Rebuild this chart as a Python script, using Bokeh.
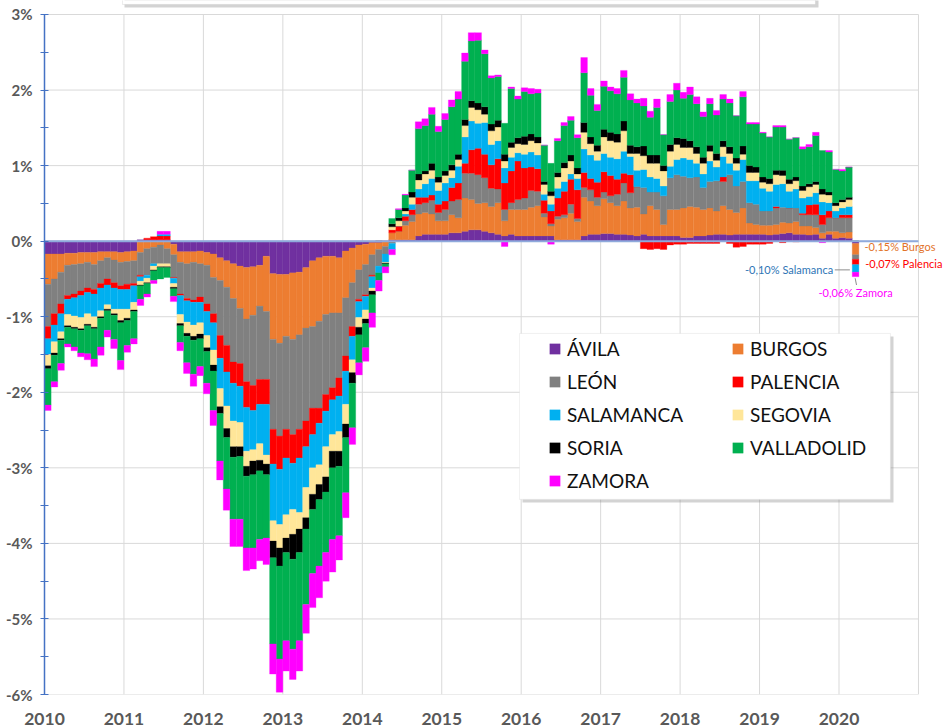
import numpy as np
import pandas as pd
from bokeh.plotting import figure
from bokeh.models import (ColumnDataSource, Range1d, FixedTicker, Legend, LegendItem,
                          BoxAnnotation, Label)
from bokeh.embed import file_html
from bokeh.resources import INLINE

# ---------------- data (monthly contribution, percentage points) ----------------
months = pd.date_range("2010-01-01", periods=123, freq="MS")

avila = [-.17,-.17,-.17,-.16,-.16,-.15,-.15,-.15,-.14,-.14,-.14,-.15,-.14,-.13,
         .02,.02,.02,.02,.02,-.04,
         -.14,-.14,-.14,-.13,-.15,-.17,-.22,-.26,-.30,-.33,
         -.35,-.34,-.32,-.20,-.43,-.44,-.44,-.42,-.41,-.35,
         -.26,-.22,-.20,-.20,-.22,-.13,-.09,-.05,-.04,-.02,-.02,-.01,
         .02,.02,.02,.02,.07,.09,.09,.09,.09,.11,
         .11,.13,.15,.15,.13,.11,.09,.07,.09,.07,
         .07,.07,.07,.07,.07,.02,.02,.02,.02,.07,
         .09,.09,.10,.10,.09,.09,.08,.07,.09,.07,
         .07,.07,.07,.07,.05,.05,.07,.07,.08,.09,
         .09,.08,.09,.09,.09,.09,.09,.08,.09,.10,
         .11,.09,.09,.08,.09,.04,.09,.04,.05,.04,-.03]

burgos = [-.40,-.33,-.24,-.16,-.15,-.15,-.13,-.16,-.12,-.08,
          -.11,-.13,-.13,-.13,-.15,-.10,-.08,-.05,-.10,-.14,
          -.14,-.16,-.14,-.17,-.17,-.31,-.30,-.35,-.46,-.56,
          -.68,-.64,-.54,-.73,-.87,-.91,-.82,-.88,-.83,-.80,
          -.87,-.84,-.77,-.75,-.73,-.62,-.46,-.33,-.27,-.16,
          -.09,-.06,.09,.11,.19,.24,.29,.29,.27,.18,
          .18,.24,.20,.44,.40,.35,.38,.35,.42,.20,
          .33,.35,.35,.38,.40,.25,.13,.27,.29,.35,
          .24,.51,.44,.38,.46,.41,.38,.44,.36,.38,
          .27,.40,.35,.15,.35,.35,.39,.41,.38,.35,
          .36,.31,.38,.34,.29,.35,.15,.13,.12,.13,
          .13,.15,.13,.17,.11,.12,.09,.07,.04,.09,
          .06,.08,-.15]

leon = [-.56,-.46,-.42,-.40,-.39,-.36,-.34,-.33,-.30,-.28,
        -.30,-.31,-.30,-.30,-.30,-.35,-.22,-.25,-.20,-.30,
        -.42,-.46,-.50,-.44,-.51,-.48,-.73,-.77,-.84,-.73,
        -.83,-.93,-.97,-.90,-1.19,-1.23,-1.23,-1.26,-1.25,-1.23,
        -1.08,-1.15,-1.06,-.99,-.86,-.77,-.58,-.39,-.40,-.27,
        -.22,-.10,-.03,.00,.06,.09,.13,.13,.18,.11,
        .15,.18,.24,.33,.35,.38,.33,.24,.18,.15,
        .09,.13,.15,.22,.19,.05,.03,.04,.04,.12,
        .04,.13,.15,.11,.09,.09,.15,.24,.20,.27,
        .35,.18,.23,.38,.42,.46,.42,.38,.40,.29,
        .35,.40,.32,.46,.35,.35,.27,.27,.19,.19,
        .22,.20,.20,.18,.15,.15,.17,.11,.18,.18,
        .20,.19,-.06]

palencia = [-.16,-.15,-.13,-.05,-.05,-.06,-.06,-.06,-.06,-.08,
            -.07,-.05,-.07,-.03,-.02,.02,.04,.05,.05,-.01,
            -.02,-.03,-.03,-.07,-.10,-.12,-.30,-.35,-.28,-.30,
            -.34,-.33,-.33,-.33,-.46,-.44,-.38,-.38,-.38,-.34,
            -.35,-.20,-.22,-.16,-.24,-.20,-.13,-.03,-.02,-.02,
            .00,.00,.04,.07,.06,.07,.09,.07,.07,.11,
            .11,.18,.22,.13,.31,.35,.31,.31,.40,.35,
            .42,.51,.40,.31,.30,.17,.17,.24,.31,.33,
            .38,.20,.15,.20,.27,.27,.20,.13,.24,.00,
            -.10,-.11,-.10,-.11,-.05,-.04,-.04,-.03,-.03,-.03,
            -.03,-.03,.06,-.03,-.08,-.07,-.04,-.04,-.04,-.03,
            .02,-.02,.00,-.01,.02,.13,.14,.13,.09,.00,
            .04,.04,-.07]

salamanca = [-.21,-.22,-.24,-.20,-.24,-.29,-.28,-.30,-.30,-.26,
             -.28,-.26,-.26,-.22,-.06,-.04,-.03,.02,.02,-.07,
             -.25,-.28,-.30,-.27,-.32,-.36,-.40,-.45,-.50,-.48,
             -.58,-.52,-.52,-.67,-.75,-.73,-.75,-.61,-.72,-.54,
             -.44,-.55,-.47,-.46,-.47,-.44,-.31,-.21,-.18,-.15,
             -.09,-.11,-.08,.00,.03,.07,.11,.18,.22,.18,
             .24,.13,.22,.35,.38,.33,.42,.27,.24,.20,
             .18,.11,.18,.20,.18,.08,.09,.13,.13,.07,
             .15,.31,.31,.29,.24,.24,.27,.29,.24,.22,
             .24,.20,.18,.13,.15,.20,.24,.24,.18,.18,
             .27,.18,.27,.15,.21,.29,.29,.31,.30,.26,
             .29,.31,.22,.25,.20,.11,.15,.17,.11,.09,
             .09,.11,-.10]

segovia = [-.15,-.15,-.09,-.15,-.15,-.15,-.14,-.14,-.08,-.06,
           -.06,-.15,-.12,-.10,-.05,-.06,-.05,-.04,-.04,-.05,
           -.12,-.15,-.15,-.15,-.16,-.20,-.24,-.30,-.34,-.32,
           -.20,-.15,-.22,-.12,-.27,-.31,-.31,-.33,-.22,-.40,
           -.35,-.26,-.40,-.22,-.26,-.26,-.17,-.13,-.12,-.04,
           .00,-.01,.04,.07,.04,.09,.12,.13,.11,.11,
           .10,.10,.09,.15,.18,.18,.11,.18,.18,.09,
           .13,.12,.13,.15,.16,.13,.11,.15,.18,.17,
           .06,.22,.15,.12,.22,.22,.22,.27,.04,.22,
           .18,.18,.20,.20,.20,.20,.14,.16,.13,.14,
           .13,.09,.13,.13,.09,.07,.11,.11,.08,.10,
           .13,.11,.10,.11,.10,.13,.11,.10,.10,.07,
           .08,.09,.00]

soria = [-.04,-.03,-.02,-.02,-.02,-.02,-.02,-.02,-.02,-.02,
         -.02,-.03,-.03,-.02,-.01,-.01,-.01,-.01,-.01,-.02,
         -.03,-.04,-.05,-.06,-.05,-.08,-.09,-.12,-.14,-.13,
         -.13,-.18,-.14,-.14,-.22,-.24,-.19,-.33,-.31,-.15,
         -.20,-.20,-.20,-.22,-.20,-.18,-.14,-.10,-.06,-.05,
         .00,-.01,.04,.04,.04,.07,.08,.04,.09,.07,
         .06,.07,.07,.08,.09,.09,.10,.09,.09,.09,
         .07,.08,.11,.09,.08,.04,.06,.06,.07,.08,
         .08,.13,.09,.08,.10,.11,.11,.13,.11,.09,
         .13,.11,.11,.07,.09,.09,.12,.09,.09,.08,
         .08,.09,.08,.09,.07,.11,.09,.07,.07,.07,
         .06,.07,.06,.05,.06,.04,.04,.07,.04,.04,
         .03,.03,.00]

valladolid = [-.48,-.35,-.31,-.22,-.24,-.30,-.37,-.40,-.38,-.26,
              -.32,-.50,-.33,-.36,-.18,-.14,-.13,-.15,-.13,-.10,
              -.22,-.35,-.45,-.37,-.42,-.52,-.63,-.68,-.82,-.83,
              -.95,-.97,-.91,-.84,-1.14,-1.23,-1.17,-1.19,-1.17,-1.00,
              -.85,-.88,-.80,-.95,-.92,-.73,-.59,-.37,-.32,-.24,
              -.10,-.04,.07,.11,.17,.29,.60,.60,.65,.60,
              .68,.77,.73,.77,.79,.83,.70,.61,.58,.41,
              .71,.51,.59,.53,.58,.48,.37,.42,.49,.46,
              .40,.66,.55,.46,.57,.55,.53,.58,.60,.58,
              .53,.50,.63,.41,.57,.63,.53,.61,.57,.54,
              .55,.51,.55,.58,.56,.65,.55,.57,.58,.55,
              .57,.57,.53,.52,.49,.49,.61,.51,.53,.44,
              .38,.40,.00]

zamora = [-.07,-.07,-.09,-.04,-.05,-.05,-.08,-.10,-.11,-.09,
          -.12,-.12,-.09,-.07,-.08,-.04,-.04,.04,.04,-.07,
          -.11,-.14,-.16,-.12,-.14,-.20,-.25,-.28,-.36,-.36,
          -.30,-.28,-.28,-.35,-.40,-.44,-.40,-.40,-.40,-.38,
          -.45,-.42,-.38,-.43,-.32,-.33,-.22,-.16,-.18,-.19,
          -.14,-.08,-.07,.01,.01,.00,.09,.09,.09,.07,
          .08,.09,.10,.11,.11,.10,.05,.03,.02,-.07,
          .02,.04,.05,.07,.05,.00,-.04,.03,.04,.05,
          .04,.20,.09,.08,.07,.05,.07,.09,.08,.05,
          .10,.08,.11,.00,.09,.09,.08,.10,.09,.06,
          .07,.06,.06,.05,.00,.07,.02,.02,.01,.00,
          .02,.02,.00,.00,.03,.03,.04,-.02,.02,.00,
          .02,.00,-.06]

names = ["ÁVILA", "BURGOS", "LEÓN", "PALENCIA", "SALAMANCA",
         "SEGOVIA", "SORIA", "VALLADOLID", "ZAMORA"]
colors = ["#7030A0", "#ED7D31", "#808080", "#FF0000", "#00B0F0",
          "#FFE699", "#000000", "#00B050", "#FF00FF"]
year_ticks = list(range(2010, 2021))
grid_years = list(range(2011, 2022))
pct_ticks = list(range(-6, 4))

series = [avila, burgos, leon, palencia, salamanca, segovia, soria, valladolid, zamora]
for s in series:
    assert len(s) == len(months)

# decimal-year position of each month (bar centre)
xpos = months.year.values + (months.month.values - 1) / 12 + 1 / 24
bw = 1 / 12
x0, x1 = 2010, 2021          # plot-area extent (years)
y0, y1 = -6, 3               # plot-area extent (%)
px_x = 1 / 79.45             # years per screen pixel
px_y = 1 / 75.56             # pct per screen pixel

FONT = "Lato"

p = figure(width=946, height=728, x_range=Range1d(x0, 2021.353),
           y_range=Range1d(y0, y1 + 14 * px_y),
           output_backend="svg", toolbar_location=None,
           min_border_left=44, min_border_right=0, min_border_top=0, min_border_bottom=34)
p.outline_line_color = None
p.background_fill_color = "white"
p.xgrid.grid_line_color = None
p.ygrid.grid_line_color = None

# bottom edge of the (cropped) title box above the chart
p.add_layout(BoxAnnotation(left=2010.982 + 2 * px_x, right=2019.704 + 3 * px_x,
                           top=y1 + 20 * px_y, bottom=y1 + 7 * px_y,
                           fill_color="#808080", fill_alpha=0.35, line_color=None))
p.add_layout(BoxAnnotation(left=2010.982, right=2019.704,
                           top=y1 + 20 * px_y, bottom=y1 + 10 * px_y,
                           fill_color="white", fill_alpha=1.0,
                           line_color="#BFBFBF", line_width=1))

# plot-area grid (limited to the chart area, 2010-2021)
p.segment(x0=[x0] * len(pct_ticks), x1=[x1] * len(pct_ticks), y0=pct_ticks, y1=pct_ticks,
          line_color="#D9D9D9", line_width=1)
p.segment(x0=grid_years, x1=grid_years, y0=[y0] * len(grid_years), y1=[y1] * len(grid_years),
          line_color="#D9D9D9", line_width=1)

pos = np.zeros(len(xpos))
neg = np.zeros(len(xpos))
renderers = []
last_bounds = {}
for name, vals, col in zip(names, series, colors):
    v = np.array(vals, dtype=float)
    bottom = np.where(v >= 0, pos, neg + v)
    top = np.where(v >= 0, pos + v, neg)
    pos = pos + np.clip(v, 0, None)
    neg = neg + np.clip(v, None, 0)
    last_bounds[name] = (bottom[-1], top[-1])
    src = ColumnDataSource(dict(x=xpos, top=top, bottom=bottom))
    r = p.vbar(x="x", width=bw, top="top", bottom="bottom", source=src,
               fill_color=col, line_color=col, line_width=0.3)
    renderers.append(r)

# horizontal axis line at 0 %
p.segment(x0=[x0], x1=[x1], y0=[0], y1=[0], line_color="#8FAADC", line_width=2)

# axes
xa = p.xaxis[0]
xa.ticker = FixedTicker(ticks=year_ticks)
xa.major_label_overrides = {y: str(y) for y in year_ticks}
xa.axis_line_color = None
xa.major_tick_line_color = None
xa.minor_tick_line_color = None
xa.major_label_standoff = 12
xa.major_label_text_font = FONT
xa.major_label_text_font_style = "bold"
xa.major_label_text_font_size = "17.5px"
xa.major_label_text_color = "#595959"

ya = p.yaxis[0]
ya.bounds = (y0, y1)
ya.ticker = FixedTicker(ticks=pct_ticks, minor_ticks=[k + 0.5 for k in pct_ticks[:-1]])
ya.major_label_overrides = {k: f"{k}%" for k in pct_ticks}
ya.axis_line_color = "#4472C4"
ya.axis_line_width = 1.5
ya.major_tick_line_color = "#4472C4"
ya.minor_tick_line_color = "#4472C4"
ya.major_tick_in = 4
ya.major_tick_out = 4
ya.minor_tick_in = 4
ya.minor_tick_out = 4
ya.major_label_standoff = 8
ya.major_label_text_font = FONT
ya.major_label_text_font_style = "bold"
ya.major_label_text_font_size = "15px"
ya.major_label_text_color = "#595959"

# legend frame (shadow + white box) and legend
box_l, box_r, box_t, box_b = 2015.979, 2020.648, -1.222, -3.418
p.add_layout(BoxAnnotation(left=box_l + 3 * px_x, right=box_r + 3 * px_x,
                           top=box_t - 3 * px_y, bottom=box_b - 3 * px_y,
                           fill_color="#808080", fill_alpha=0.35, line_color=None))
p.add_layout(BoxAnnotation(left=box_l, right=box_r, top=box_t, bottom=box_b,
                           fill_color="white", fill_alpha=1.0,
                           line_color="#D0D0D0", line_width=1))

legend = Legend(items=[LegendItem(label=n, renderers=[r]) for n, r in zip(names, renderers)],
                location=(504, 202), orientation="horizontal", ncols=2,
                glyph_width=13, glyph_height=13, label_standoff=6,
                label_width=154, label_height=20, spacing=10, padding=0, margin=0,
                border_line_color=None, background_fill_alpha=0,
                label_text_font=FONT, label_text_font_size="19px",
                label_text_color="#111111")
p.add_layout(legend)

# labels for the last month
xl = xpos[-1]
ann_size = "11px"
b_bot, b_top = last_bounds["BURGOS"]
p.add_layout(Label(x=xl + bw / 2 + 0.07, y=(b_bot + b_top) / 2 + 0.04,
                   text=f"{burgos[-1]:.2f}".replace(".", ",") + "% Burgos",
                   text_color="#E2732A", text_font=FONT, text_font_size=ann_size,
                   text_baseline="middle", text_align="left"))
r_bot, r_top = last_bounds["PALENCIA"]
p.add_layout(Label(x=xl + bw / 2 + 0.08, y=r_bot + 0.01,
                   text=f"{palencia[-1]:.2f}".replace(".", ",") + "% Palencia",
                   text_color="#FF0000", text_font=FONT, text_font_size=ann_size,
                   text_baseline="middle", text_align="left"))
s_bot, s_top = last_bounds["SALAMANCA"]
s_mid = (s_bot + s_top) / 2 - 0.02
p.segment(x0=[xl - bw / 2 - 0.03], x1=[xl - bw / 2 - 0.22], y0=[s_mid], y1=[s_mid],
          line_color="#8C8C8C", line_width=1)
p.add_layout(Label(x=xl - bw / 2 - 0.24, y=s_mid,
                   text=f"{salamanca[-1]:.2f}".replace(".", ",") + "% Salamanca",
                   text_color="#2E75B6", text_font=FONT, text_font_size=ann_size,
                   text_baseline="middle", text_align="right"))
z_bot, z_top = last_bounds["ZAMORA"]
p.segment(x0=[xl - 0.005], x1=[xl + 0.012], y0=[z_bot - 0.02], y1=[z_bot - 0.11],
          line_color="#8C8C8C", line_width=1)
p.add_layout(Label(x=xl, y=z_bot - 0.13,
                   text=f"{zamora[-1]:.2f}".replace(".", ",") + "% Zamora",
                   text_color="#FF00FF", text_font=FONT, text_font_size=ann_size,
                   text_baseline="top", text_align="center"))

open("out.html", "w").write(file_html(p, INLINE))
